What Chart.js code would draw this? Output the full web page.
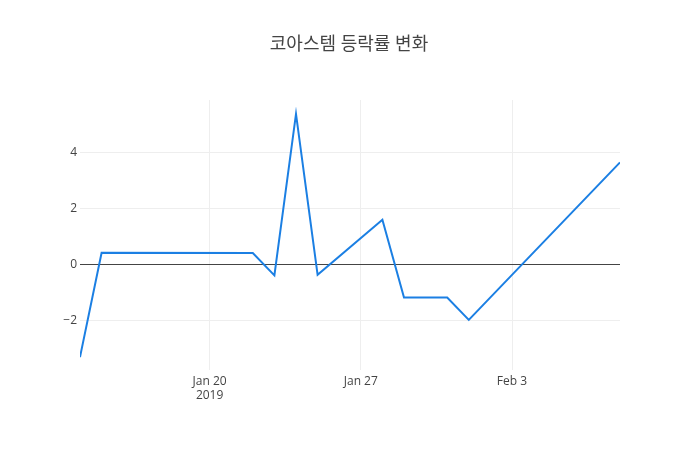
<!DOCTYPE html>
<html>
<head>
<meta charset="utf-8">
<script src="https://cdn.jsdelivr.net/npm/chart.js@4"></script>
<style>
html,body{margin:0;padding:0;background:#fff;}
#wrap{width:700px;height:450px;position:relative;}
</style>
</head>
<body>
<div id="wrap"><canvas id="c" width="700" height="450"></canvas></div>
<script>
const titleText = '코아스템 등락률 변화';
const dates = ['2019-01-14','2019-01-15','2019-01-22','2019-01-23','2019-01-24','2019-01-25','2019-01-28','2019-01-29','2019-01-31','2019-02-01','2019-02-08'];
const values = [-3.31, 0.42, 0.41, -0.39, 5.38, -0.37, 1.60, -1.18, -1.18, -1.98, 3.65];
const xTickDates = ['2019-01-20','2019-01-27','2019-02-03'];
const xTickLabels = [['Jan 20','2019'],['Jan 27'],['Feb 3']];
const yTicks = [-2, 0, 2, 4];
const yRange = [-3.77, 5.88];

const DAY = 86400000;
const t0 = Date.parse(dates[0] + 'T00:00:00Z');
const toDay = s => (Date.parse(s + 'T00:00:00Z') - t0) / DAY;
const points = dates.map((d, i) => ({x: toDay(d), y: values[i]}));
const xTickVals = xTickDates.map(toDay);
const FONT = "'Open Sans', 'Noto Sans CJK KR', sans-serif";

const titlePlugin = {
  id: 'plotTitle',
  afterDraw(chart) {
    const ctx = chart.ctx;
    ctx.save();
    ctx.font = "18px " + FONT;
    ctx.fillStyle = '#444';
    ctx.textAlign = 'center';
    ctx.textBaseline = 'middle';
    ctx.fillText(titleText, 349, 45);
    ctx.restore();
  }
};

new Chart(document.getElementById('c'), {
  type: 'line',
  data: {
    datasets: [{
      data: points,
      borderColor: '#1b7fe3',
      borderWidth: 2,
      pointRadius: 0,
      fill: false,
      tension: 0
    }]
  },
  options: {
    responsive: false,
    animation: false,
    devicePixelRatio: 1,
    layout: {padding: {top: 100, right: 80, left: 0, bottom: 0}},
    plugins: {legend: {display: false}, title: {display: false}, tooltip: {enabled: false}},
    scales: {
      x: {
        type: 'linear',
        min: toDay(dates[0]),
        max: toDay(dates[dates.length - 1]),
        afterBuildTicks: s => { s.ticks = xTickVals.map(v => ({value: v})); },
        afterFit: s => { s.height = 80; },
        border: {display: false},
        grid: {color: '#eeeeee', lineWidth: 1, drawTicks: false},
        ticks: {
          padding: 4,
          color: '#444',
          font: {family: FONT, size: 12},
          maxRotation: 0,
          autoSkip: false,
          callback: (v) => { const i = xTickVals.indexOf(v); return i >= 0 ? xTickLabels[i] : ''; }
        }
      },
      y: {
        min: yRange[0],
        max: yRange[1],
        afterBuildTicks: s => { s.ticks = yTicks.map(v => ({value: v})); },
        afterFit: s => { s.width = 80; },
        border: {display: false},
        grid: {
          color: c => (c.tick && c.tick.value === 0) ? '#444444' : '#eeeeee',
          lineWidth: 1,
          drawTicks: false
        },
        ticks: {
          padding: 3,
          color: '#444',
          font: {family: FONT, size: 12},
          callback: v => String(v).replace('-', '\u2212')
        }
      }
    }
  },
  plugins: [titlePlugin]
});
</script>
</body>
</html>
